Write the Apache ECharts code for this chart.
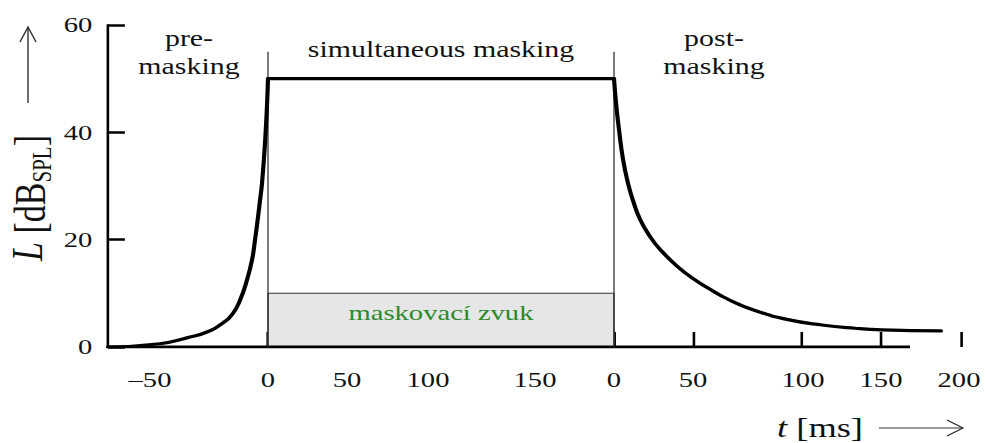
<!DOCTYPE html>
<html>
<head>
<meta charset="utf-8">
<title>Maskování v čase</title>
<script src="https://cdn.jsdelivr.net/npm/echarts@6.0.0/dist/echarts.min.js"></script>
<style>
  html, body { margin:0; padding:0; background:#fff; overflow:hidden; }
  #chart { width:758px; height:443px; transform-origin:0 0; }
</style>
</head>
<body>
<div id="chart"></div>
<script>
// the original figure is stretched sideways, so the chart is drawn narrower and scaled on x
var STRETCH = 985 / 758;

// schematic time axis (position units), level in dB SPL
var preT  = [-160, -108, -81, -61, -45, -35, -28, -21, -16, -13, -10, -8, -6, -3, -1, 0];
var preL  = [0, 0.6, 1.7, 2.8, 4.5, 6.3, 8.7, 12.5, 16.2, 19.9, 24.2, 27.3, 30.5, 38, 45, 50];
var simT  = [0, 346];
var simL  = [50, 50];
var postT = [346, 348, 351, 355, 360, 365, 372, 382, 392, 410, 427, 440, 460, 487, 520, 554, 587, 614, 673];
var postL = [50, 45.5, 40.5, 35, 30.5, 27.3, 23.8, 20.6, 18.2, 14.9, 12.5, 11, 8.9, 6.8, 5.1, 4.1, 3.5, 3.2, 3];

var maskerOn = 0, maskerOff = 346, maskerLevel = 10, markerTop = 55;
var tMin = -160, tMax = 707, axisEnd = 642;

var tickPos   = [0, 78, 158, 264, 346, 425, 533, 613, 693];
var labelPos  = [-118, 0, 79, 160, 267, 346, 425, 535, 613, 691];
var labelText = ['\u201350', '0', '50', '100', '150', '0', '50', '100', '150', '200'];

var FONT = '"Liberation Serif", "Times New Roman", serif';

function px(x){ return x / STRETCH; } // reference pixel -> chart pixel

function pairs(xs, ys){
  var out = [];
  for(var i = 0; i < xs.length; i++){ out.push([xs[i], ys[i]]); }
  return out;
}

var dom = document.getElementById('chart');
dom.style.transform = 'scaleX(' + STRETCH + ')';
// svg keeps lines and text sharp under the css stretch
var chart = echarts.init(dom, null, {renderer: 'svg'});

var curveStyle = {color: '#000', width: 3.2, cap: 'round', join: 'round'};

chart.setOption({
  animation: false,
  backgroundColor: '#fff',
  grid: {left: px(108), right: 758 - px(975), top: 25, bottom: 96},
  xAxis: {
    type: 'value',
    min: tMin,
    max: tMax,
    axisLine: {show: false},
    splitLine: {show: false},
    axisTick: {
      show: true, inside: true, length: 15,
      customValues: tickPos,
      lineStyle: {color: '#000', width: 2}
    },
    axisLabel: {
      customValues: labelPos,
      margin: 22,
      color: '#111',
      fontFamily: FONT,
      fontSize: 22,
      formatter: function(v){
        for(var i = 0; i < labelPos.length; i++){
          if(Math.abs(labelPos[i] - v) < 0.5){ return labelText[i]; }
        }
        return '';
      }
    }
  },
  yAxis: {
    type: 'value',
    min: 0,
    max: 60,
    interval: 20,
    splitLine: {show: false},
    axisLine: {show: true, onZero: false, lineStyle: {color: '#000', width: 2}},
    axisTick: {show: true, inside: true, length: 13, lineStyle: {color: '#000', width: 2.5}},
    axisLabel: {margin: 12, color: '#111', fontFamily: FONT, fontSize: 22}
  },
  series: [
    {
      // base line of the time axis, stops before the last tick
      name: 'base', type: 'line', z: 1, silent: true, symbol: 'none',
      data: [[tMin, 0], [axisEnd, 0]],
      lineStyle: {color: '#000', width: 3},
      markArea: {
        silent: true,
        itemStyle: {color: '#e6e6e6', borderColor: '#333', borderWidth: 1},
        label: {
          show: true, position: 'inside', offset: [0, -7],
          color: '#2a8a2a', fontFamily: FONT, fontSize: 22
        },
        data: [[{name: 'maskovací zvuk', coord: [maskerOn, 0]}, {coord: [maskerOff, maskerLevel]}]]
      }
    },
    {
      name: 'onset', type: 'line', z: 2, silent: true, symbol: 'none',
      data: [[maskerOn, 0], [maskerOn, markerTop]],
      lineStyle: {color: '#333', width: 1}
    },
    {
      name: 'offset', type: 'line', z: 2, silent: true, symbol: 'none',
      data: [[maskerOff, 0], [maskerOff, markerTop]],
      lineStyle: {color: '#333', width: 1}
    },
    {
      name: 'pre-masking', type: 'line', z: 3, symbol: 'none',
      smooth: 0.5,
      data: pairs(preT, preL), lineStyle: curveStyle
    },
    {
      name: 'simultaneous masking', type: 'line', z: 3, symbol: 'none',
      data: pairs(simT, simL), lineStyle: curveStyle
    },
    {
      name: 'post-masking', type: 'line', z: 3, symbol: 'none',
      smooth: 0.5,
      data: pairs(postT, postL), lineStyle: curveStyle
    }
  ],
  graphic: [
    {type: 'text', x: px(189), y: 24, style: {text: 'pre-\nmasking', align: 'center', verticalAlign: 'top', lineHeight: 28, fill: '#111', fontFamily: FONT, fontSize: 23}},
    {type: 'text', x: px(441), y: 49, style: {text: 'simultaneous masking', align: 'center', verticalAlign: 'middle', fill: '#111', fontFamily: FONT, fontSize: 23}},
    {type: 'text', x: px(714), y: 24, style: {text: 'post-\nmasking', align: 'center', verticalAlign: 'top', lineHeight: 28, fill: '#111', fontFamily: FONT, fontSize: 23}},
    // y axis title, rotated, with arrow above
    {
      type: 'text', x: px(30), y: 198, rotation: Math.PI / 2,
      style: {
        text: '{i|L} [dB{s|SPL}]',
        align: 'center', verticalAlign: 'middle',
        fill: '#111', fontFamily: FONT, fontSize: 34,
        rich: {
          i: {fontStyle: 'italic', fontFamily: FONT, fontSize: 34, padding: [0, 0, 4, 0]},
          s: {fontFamily: FONT, fontSize: 21, verticalAlign: 'bottom'}
        }
      }
    },
    {type: 'polyline', shape: {points: [[px(28), 103], [px(28), 27]]}, style: {stroke: '#333', lineWidth: 1.1, fill: null}},
    {type: 'polyline', shape: {points: [[px(20), 42], [px(28), 27], [px(36), 42]]}, style: {stroke: '#333', lineWidth: 1.1, fill: null}},
    // x axis title with arrow
    {
      type: 'text', x: px(820), y: 428,
      style: {
        text: '{i|t} [ms]', align: 'center', verticalAlign: 'middle',
        fill: '#111', fontFamily: FONT, fontSize: 28,
        rich: {i: {fontStyle: 'italic', fontFamily: FONT, fontSize: 28}}
      }
    },
    {type: 'polyline', shape: {points: [[px(879), 428], [px(963), 428]]}, style: {stroke: '#333', lineWidth: 1.1, fill: null}},
    {type: 'polyline', shape: {points: [[px(947), 420], [px(963), 428], [px(947), 436]]}, style: {stroke: '#333', lineWidth: 1.1, fill: null}}
  ]
});
</script>
</body>
</html>
